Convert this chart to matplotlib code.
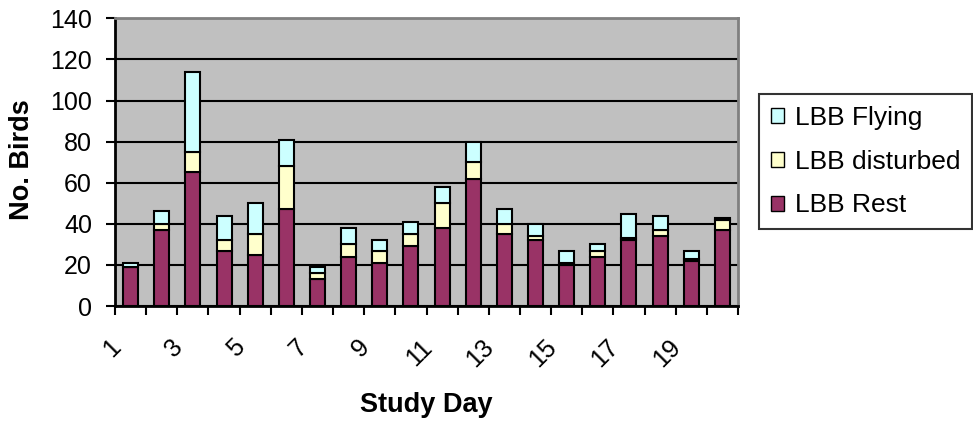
import matplotlib
matplotlib.use("Agg")
import matplotlib.pyplot as plt
from matplotlib.patches import Patch
from matplotlib.transforms import ScaledTranslation
import numpy as np

days = list(range(1, 21))
rest = [19, 37, 65, 27, 25, 47, 13, 24, 21, 29, 38, 62, 35, 32, 20, 24, 32, 34, 22, 37]
disturbed = [0, 3, 10, 5, 10, 21, 3, 6, 6, 6, 12, 8, 5, 2, 1, 3, 1, 3, 1, 5]
flying = [2, 6, 39, 12, 15, 13, 3, 8, 5, 6, 8, 10, 7, 6, 6, 3, 12, 7, 4, 1]
tick_labels = [str(d) if d % 2 == 1 else "" for d in days]

plt.rcParams['font.family'] = ['Liberation Sans', 'DejaVu Sans']

fig = plt.figure(figsize=(9.73, 4.26), dpi=100)
ax = fig.add_axes([115/973, 1-306/426, (738-115)/973, (306-18.3)/426])
ax.set_facecolor('#C0C0C0')

x = np.arange(len(days))
w = 0.48
r = np.array(rest); d = np.array(disturbed); f = np.array(flying)
ax.bar(x, r, w, color='#993366', edgecolor='black', linewidth=1.5, zorder=3, label='LBB Rest')
ax.bar(x, d, w, bottom=r, color='#FFFFCC', edgecolor='black', linewidth=1.5, zorder=3, label='LBB disturbed')
ax.bar(x, f, w, bottom=r+d, color='#CCFFFF', edgecolor='black', linewidth=1.5, zorder=3, label='LBB Flying')

ax.set_xlim(-0.5, len(days)-0.5)
ax.set_ylim(0, 140)
ax.set_yticks(np.arange(0, 141, 20))
ax.yaxis.grid(True, color='black', linewidth=1.5, zorder=1)
ax.set_axisbelow(True)

# category boundary ticks (major, no labels) and labels at centers (minor)
ax.set_xticks(np.arange(-0.5, len(days), 1.0))
ax.set_xticklabels([])
ax.set_xticks(x, minor=True)
ax.set_xticklabels(tick_labels, minor=True, rotation=45, ha='right', va='center',
                   rotation_mode='anchor', fontsize=18)
ax.tick_params(axis='x', which='major', direction='out', length=6.5, width=1.5, color='black')
ax.tick_params(axis='x', which='minor', length=0, pad=27)
ax.tick_params(axis='y', direction='out', length=6.5, width=1.5, labelsize=18, pad=10)
offset = ScaledTranslation(-0.14, 0, fig.dpi_scale_trans)
for lab in ax.get_xticklabels(minor=True):
    lab.set_transform(lab.get_transform() + offset)

for s in ['left', 'bottom']:
    ax.spines[s].set_color('black'); ax.spines[s].set_linewidth(2)
for s in ['top', 'right']:
    ax.spines[s].set_color('#808080'); ax.spines[s].set_linewidth(2)

fig.text(426/973, 1-405/426, 'Study Day', ha='center', va='center', fontsize=19.5, fontweight='bold')
fig.text(22/973, 1-160/426, 'No. Birds', ha='center', va='center', rotation=90, fontsize=19.5, fontweight='bold')

handles = [Patch(facecolor='#CCFFFF', edgecolor='black', label='LBB Flying'),
           Patch(facecolor='#FFFFCC', edgecolor='black', label='LBB disturbed'),
           Patch(facecolor='#993366', edgecolor='black', label='LBB Rest')]
leg = fig.legend(handles=handles, loc='upper left', bbox_to_anchor=(759/973, 1-94/426),
                 fontsize=19, frameon=True, fancybox=False, handlelength=0.5, handleheight=0.5,
                 handletextpad=0.4, borderpad=0.45, labelspacing=0.75, borderaxespad=0)
leg.get_frame().set_edgecolor('black')
leg.get_frame().set_linewidth(1.5)

fig.savefig('out.png', dpi=100)
